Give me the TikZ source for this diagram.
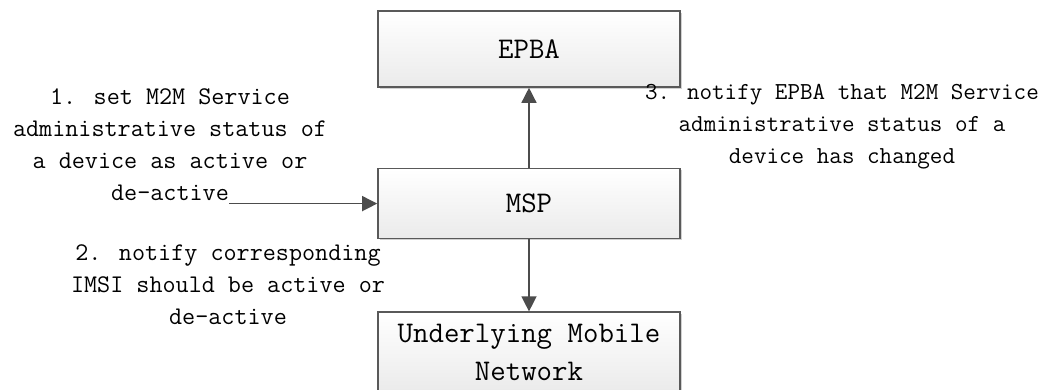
\documentclass[tikz,border=0pt]{standalone}
\usepackage{fontspec}
\usetikzlibrary{arrows.meta, positioning, shadows}
\tikzset{
  block/.style={rectangle, draw=black!65, line width=0.8pt, top color=white, bottom color=black!8,
                drop shadow={shadow xshift=0.8pt, shadow yshift=-0.8pt, fill=black!30, opacity=0.6},
                minimum width=151pt, align=center, inner sep=1pt,
                font=\fontsize{15}{19}\selectfont\ttfamily},
  note/.style={align=center, inner sep=0pt, font=\fontsize{12.7}{16}\selectfont\ttfamily},
  arrow/.style={-{Triangle[length=7.5pt, width=7.5pt]}, draw=black!70, line width=0.7pt},
}

\begin{document}
\begin{tikzpicture}[node distance=40pt]
  \useasboundingbox (0,0) rectangle (523pt,-195pt);

  % Boxes
  \node[block, minimum height=38pt] (epba) at (264.5pt,-24.5pt) {EPBA};
  \node[block, minimum height=35pt, below=of epba] (msp) {MSP};
  \node[block, minimum height=40pt, below=36pt of msp] (umn) {Underlying Mobile\\Network};

  % Step texts
  \node[note] (step1) at (85pt,-72.25pt) {1. set M2M Service\\administrative status of\\a device as active or\\de-active};
  \node[note] (step2) at (114pt,-142.5pt) {2. notify corresponding\\IMSI should be active or\\de-active};
  \node[note, font=\fontsize{12.2}{16}\selectfont\ttfamily] (step3) at (421pt,-63.5pt)
    {3. notify EPBA that M2M Service\\administrative status of a\\device has changed};
  \coordinate (step1end) at ([xshift=-74pt]msp.west);

  % Arrows
  \draw[arrow] (step1end) -- (msp.west);
  \draw[arrow] (msp) -- (epba);
  \draw[arrow] (msp) -- (umn);

\end{tikzpicture}
\end{document}
